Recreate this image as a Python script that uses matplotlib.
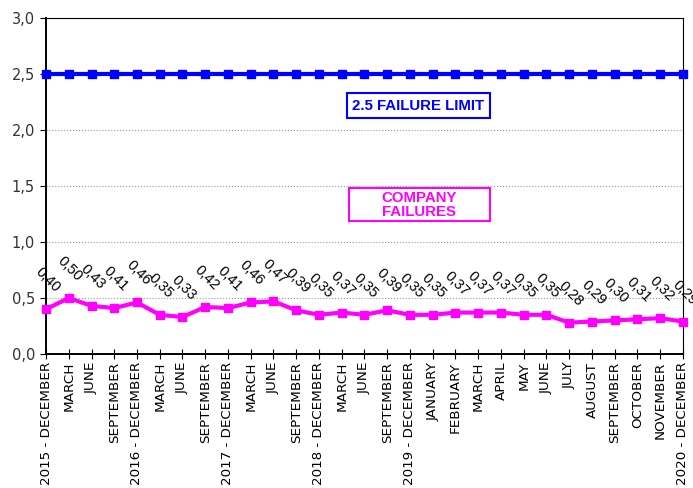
import matplotlib.pyplot as plt
from matplotlib.patches import Rectangle
from matplotlib.ticker import FuncFormatter

periodos = ['2015 - DECEMBER', 'MARCH', 'JUNE', 'SEPTEMBER',
            '2016 - DECEMBER', 'MARCH', 'JUNE', 'SEPTEMBER',
            '2017 - DECEMBER', 'MARCH', 'JUNE', 'SEPTEMBER',
            '2018 - DECEMBER', 'MARCH', 'JUNE', 'SEPTEMBER',
            '2019 - DECEMBER', 'JANUARY', 'FEBRUARY', 'MARCH', 'APRIL',
            'MAY', 'JUNE', 'JULY', 'AUGUST', 'SEPTEMBER', 'OCTOBER',
            'NOVEMBER', '2020 - DECEMBER']

falhas_empresa = [0.40, 0.50, 0.43, 0.41, 0.46, 0.35, 0.33, 0.42, 0.41,
                  0.46, 0.47, 0.39, 0.35, 0.37, 0.35, 0.39, 0.35, 0.35,
                  0.37, 0.37, 0.37, 0.35, 0.35, 0.28, 0.29, 0.30, 0.31,
                  0.32, 0.29]

limite = [2.5] * len(periodos)

fonte = 'DejaVu Sans'

fig = plt.figure(figsize=(6.93, 4.88), dpi=100)
ax = fig.add_axes([0.0664, 0.2746, 0.919, 0.6884])

x = list(range(len(periodos)))

ax.plot(x, limite, color='#0000FF', linewidth=3, marker='s', markersize=6,
        clip_on=False, zorder=3)
ax.plot(x, falhas_empresa, color='#FF00FF', linewidth=3, marker='s',
        markersize=6, clip_on=False, zorder=3)

# rótulos de valor inclinados acima de cada ponto
for xi, v in zip(x, falhas_empresa):
    ax.annotate(f'{v:.2f}'.replace('.', ','), (xi, v), xytext=(1, 21),
                textcoords='offset points', rotation=-45, ha='center',
                va='center', fontsize=10.5, family='Liberation Sans',
                color='black', annotation_clip=False)

ax.set_xlim(0, len(periodos) - 1)
ax.set_ylim(0, 3.0)
ax.set_yticks([0, 0.5, 1.0, 1.5, 2.0, 2.5, 3.0])
ax.yaxis.set_major_formatter(FuncFormatter(lambda v, p: f'{v:.1f}'.replace('.', ',')))
ax.set_xticks(x)
ax.set_xticklabels(periodos, rotation=90, fontsize=9.7, family=fonte)
for t in ax.get_yticklabels():
    t.set_fontsize(10.5)
    t.set_family(fonte)
    t.set_color('#333333')

ax.grid(axis='y', color='#999999', linestyle=':', linewidth=0.8)
ax.set_axisbelow(True)
ax.tick_params(axis='x', direction='inout', length=7, width=0.8, pad=2)
ax.tick_params(axis='y', direction='out', length=4, width=0.8, pad=4)
for lado in ['left', 'bottom']:
    ax.spines[lado].set_linewidth(1.4)
for lado in ['top', 'right']:
    ax.spines[lado].set_linewidth(0.8)

# caixas de legenda dentro do gráfico
ax.add_patch(Rectangle((0.4725, 0.7024), 0.2245, 0.0744, transform=ax.transAxes,
                       fill=False, edgecolor='#0000FF', linewidth=1.5, zorder=4))
ax.text(0.5848, 0.7396, '2.5 FAILURE LIMIT', transform=ax.transAxes,
        ha='center', va='center', fontsize=10.8, fontweight='bold',
        family='Liberation Sans', color='#0000FF', zorder=5)

ax.add_patch(Rectangle((0.4757, 0.3958), 0.2214, 0.0982, transform=ax.transAxes,
                       fill=False, edgecolor='#FF00FF', linewidth=1.5, zorder=4))
ax.text(0.5863, 0.4449, 'COMPANY\nFAILURES', transform=ax.transAxes,
        ha='center', va='center', fontsize=10.8, fontweight='bold',
        family='Liberation Sans', color='#FF00FF', linespacing=1.0, zorder=5)

fig.savefig('out.png', dpi=100)
